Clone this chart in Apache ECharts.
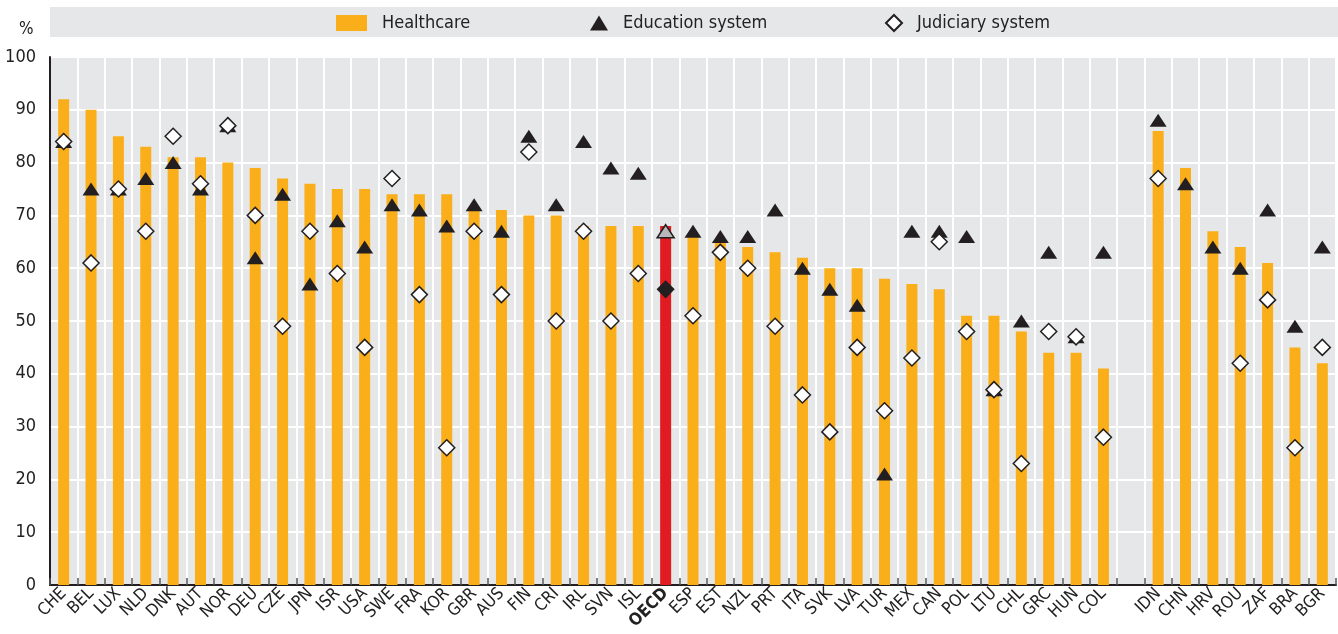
<!DOCTYPE html>
<html><head><meta charset="utf-8">
<script src="https://cdn.jsdelivr.net/npm/echarts@6/dist/echarts.min.js"></script>
<style>html,body{margin:0;padding:0;background:#fff}#c{width:1338px;height:634px}</style>
</head><body><div id="c"></div>
<script>
const categories = ['CHE','BEL','LUX','NLD','DNK','AUT','NOR','DEU','CZE','JPN','ISR','USA','SWE','FRA','KOR','GBR','AUS','FIN','CRI','IRL','SVN','ISL','OECD','ESP','EST','NZL','PRT','ITA','SVK','LVA','TUR','MEX','CAN','POL','LTU','CHL','GRC','HUN','COL','','IDN','CHN','HRV','ROU','ZAF','BRA','BGR'];
const healthcare = [92,90,85,83,81,81,80,79,77,76,75,75,74,74,74,71,71,70,70,68,68,68,68,66,65,64,63,62,60,60,58,57,56,51,51,48,44,44,41,null,86,79,67,64,61,45,42];
const education = [84,75,75,77,80,75,87,62,74,57,69,64,72,71,68,72,67,85,72,84,79,78,67,67,66,66,71,60,56,53,21,67,67,66,37,50,63,47,63,null,88,76,64,60,71,49,64];
const judiciary = [84,61,75,67,85,76,87,70,49,67,59,45,77,55,26,67,55,82,50,67,50,59,56,51,63,60,49,36,29,45,33,43,65,48,37,23,48,47,28,null,77,null,null,42,54,26,45];
const yTicks = [0,10,20,30,40,50,60,70,80,90,100];
const highlight = 'OECD';

const FONT = "'Liberation Sans Narrow','DejaVu Sans Condensed','Roboto',sans-serif";
const ORANGE = '#F9AE1A', RED = '#E01B22', DARK = '#231F20', BG = '#E6E7E8';
const hi = categories.indexOf(highlight);

const chart = echarts.init(document.getElementById('c'));
const legendBase = {top: 14, padding: 0, textStyle: {fontFamily: FONT, fontSize: 18, color: '#222', padding: [0,0,0,10]}};
chart.setOption({
  animation: false,
  textStyle: {fontFamily: FONT},
  graphic: [
    {type: 'rect', shape: {x: 50, y: 7, width: 1288, height: 30}, style: {fill: BG}, z: -10, silent: true},
    {type: 'text', left: 19, top: 21, style: {text: '%', font: '17px ' + FONT, fill: '#222'}}
  ],
  grid: {left: 50, right: 2, top: 57, bottom: 49, show: true, backgroundColor: BG, borderWidth: 0},
  legend: [
    Object.assign({}, legendBase, {left: 336, data: [{name: 'Healthcare', icon: 'rect'}], itemWidth: 31, itemHeight: 16}),
    Object.assign({}, legendBase, {left: 590, data: ['Education system'], itemWidth: 18, itemHeight: 15}),
    Object.assign({}, legendBase, {left: 885, data: ['Judiciary system'], itemWidth: 16, itemHeight: 16})
  ],
  xAxis: {
    type: 'category',
    data: categories.map(c => c === highlight ? {value: c, textStyle: {fontWeight: 'bold'}} : c),
    boundaryGap: true,
    axisLine: {lineStyle: {color: DARK, width: 2}},
    axisTick: {show: true, inside: true, length: 7, interval: 0, lineStyle: {color: '#555', width: 1.5}},
    splitLine: {show: true, interval: 0, lineStyle: {color: '#fff', width: 2}},
    axisLabel: {rotate: 45, interval: 0, fontSize: 17, color: '#222', margin: 6, fontFamily: FONT}
  },
  yAxis: {
    type: 'value', min: yTicks[0], max: yTicks[yTicks.length - 1], interval: 10,
    axisLine: {show: true, lineStyle: {color: DARK, width: 2}},
    axisTick: {show: false},
    splitLine: {lineStyle: {color: '#fff', width: 2}},
    axisLabel: {fontSize: 18, color: '#222', margin: 14, fontFamily: FONT}
  },
  series: [
    {
      name: 'Healthcare', type: 'bar', barWidth: 11,
      itemStyle: {color: ORANGE},
      data: healthcare.map((v, i) => i === hi ? {value: v, itemStyle: {color: RED}} : v)
    },
    {
      name: 'Education system', type: 'scatter', symbol: 'triangle', symbolSize: [17, 13], z: 3,
      itemStyle: {color: DARK, opacity: 1},
      data: education.map((v, i) => i === hi ? {value: v, itemStyle: {color: '#B7B8BA', borderColor: DARK, borderWidth: 1.5}} : v)
    },
    {
      name: 'Judiciary system', type: 'scatter', symbol: 'diamond', symbolSize: 16, z: 4,
      itemStyle: {color: '#fff', borderColor: DARK, borderWidth: 1.5, opacity: 1},
      data: judiciary.map((v, i) => i === hi ? {value: v, itemStyle: {color: DARK, borderColor: DARK}} : v)
    }
  ]
});
</script>
</body></html>
